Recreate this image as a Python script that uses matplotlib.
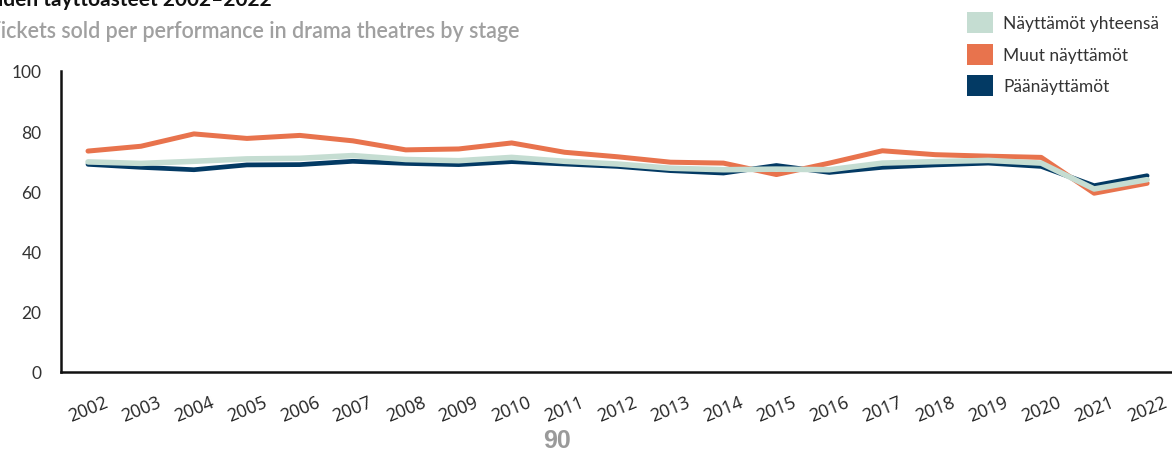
import matplotlib
matplotlib.use("Agg")
import matplotlib.pyplot as plt
from matplotlib.patches import Patch

years = list(range(2002, 2023))
yhteensa = [69.8, 69.3, 70.0, 70.8, 71.0, 71.9, 70.6, 70.2, 71.3, 70.0, 69.1, 67.7, 67.2, 67.4, 67.2, 69.4, 69.9, 70.3, 69.4, 60.8, 63.9]
muut = [73.4, 75.0, 79.1, 77.6, 78.6, 76.8, 73.8, 74.1, 76.1, 73.0, 71.5, 69.7, 69.4, 65.6, 69.4, 73.5, 72.2, 71.7, 71.3, 59.4, 62.7]
paa = [69.0, 68.0, 67.2, 68.8, 68.9, 70.0, 69.3, 68.9, 69.9, 69.1, 68.3, 66.9, 66.1, 68.6, 66.3, 68.0, 68.8, 69.4, 68.3, 61.9, 65.2]
series_names = ["Näyttämöt yhteensä", "Muut näyttämöt", "Päänäyttämöt"]
yticks = [0, 20, 40, 60, 80, 100]
title = "Puheteattereiden täyttöasteet 2002–2022"
subtitle = "Tickets sold per performance in drama theatres by stage"
page_no = "90"

c_teal = "#c5ddd2"
c_orange = "#e8734d"
c_navy = "#033a64"

W, H = 1172, 452
fig = plt.figure(figsize=(W / 100, H / 100), dpi=100)
ax = fig.add_axes([61 / W, (H - 373) / H, 1 - 61 / W + 0.01, (373 - 72) / H])

ax.plot(years, paa, color=c_navy, lw=3.4, solid_capstyle="round", zorder=2)
ax.plot(years, muut, color=c_orange, lw=3.6, solid_capstyle="round", zorder=3)
ax.plot(years, yhteensa, color=c_teal, lw=4.0, solid_capstyle="round", zorder=4)

ax.set_ylim(0, 100)
ax.set_xlim(2001.49, 2022.47 + 0.01 * W / 52.95)
ax.set_yticks(yticks)
ax.set_yticklabels([str(v) for v in yticks], fontsize=12.5, color="#333333", family="Lato")
ax.set_xticks(years)
ax.set_xticklabels([str(y) for y in years], rotation=22, fontsize=13, color="#222222",
                   family="Open Sans", ha="center")
ax.tick_params(axis="both", length=0)
ax.tick_params(axis="y", pad=14)
ax.tick_params(axis="x", pad=15)
for s in ["top", "right"]:
    ax.spines[s].set_visible(False)
for s in ["left", "bottom"]:
    ax.spines[s].set_linewidth(1.8)
    ax.spines[s].set_color("#111111")

fig.text(272 / W, 1 - 6 / H, title, ha="right", va="baseline", fontsize=15,
         fontweight="bold", color="#111111", family="Lato")
fig.text(519 / W, 1 - 31 / H, subtitle, ha="right", va="center", fontsize=15.5,
         color="#a0a0a0", family="Lato", fontweight="semibold")
fig.text(557 / W, 1 - 441 / H, page_no, ha="center", va="center", fontsize=18,
         fontweight="bold", color="#9a9a9a", family="Liberation Sans")

handles = [Patch(facecolor=c, edgecolor="none") for c in (c_teal, c_orange, c_navy)]
leg = fig.legend(handles, series_names, loc="upper left", bbox_to_anchor=(960 / W, 1 - 6 / H),
                 frameon=False, prop={"family": "Lato", "size": 12.5}, handlelength=1.5,
                 handleheight=1.5, handletextpad=0.6, labelspacing=0.6, borderaxespad=0)
for t in leg.get_texts():
    t.set_color("#333333")

fig.savefig("out.png", dpi=100)
